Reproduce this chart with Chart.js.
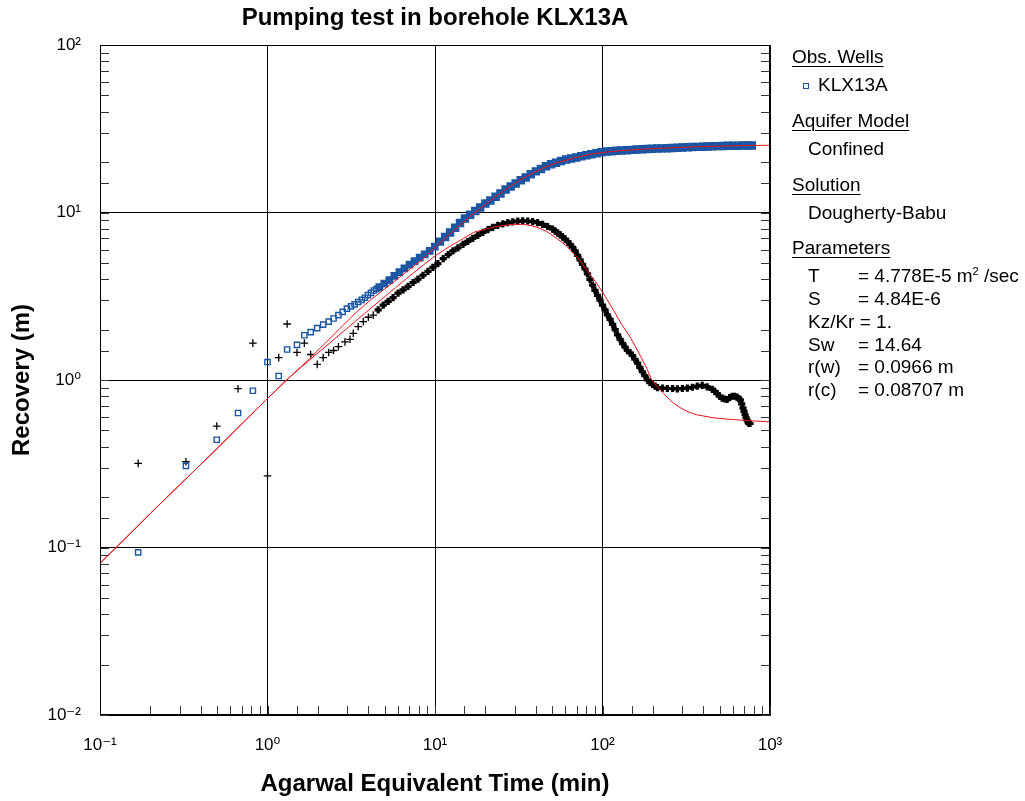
<!DOCTYPE html>
<html>
<head>
<meta charset="utf-8">
<script src="https://cdn.jsdelivr.net/npm/chart.js@4.4.1/dist/chart.umd.min.js"></script>
<style>
html,body{margin:0;padding:0;background:#fff;}
#wrap{position:relative;width:1025px;height:801px;overflow:hidden;}
#c{position:absolute;left:0;top:0;}
.leg{position:absolute;font-family:"Liberation Sans",Arial,"DejaVu Sans",sans-serif;font-size:19px;line-height:20px;color:#000;white-space:nowrap;}
.hd{text-decoration:underline;text-underline-offset:3px;text-decoration-thickness:1px;}
.leg sup{font-size:11px;vertical-align:7px;line-height:0;}
.mk{position:absolute;width:4px;height:4px;border:1px solid #1a56a3;background:#fff;}
</style>
</head>
<body>
<div id="wrap">
<canvas id="c" width="1025" height="801"></canvas>
<div class="leg hd" style="left:792px;top:47px">Obs. Wells</div>
<span class="mk" style="left:803px;top:83px"></span>
<div class="leg" style="left:818px;top:75px">KLX13A</div>
<div class="leg hd" style="left:792px;top:111px">Aquifer Model</div>
<div class="leg" style="left:808px;top:139px">Confined</div>
<div class="leg hd" style="left:792px;top:175px">Solution</div>
<div class="leg" style="left:808px;top:203px">Dougherty-Babu</div>
<div class="leg hd" style="left:792px;top:238px">Parameters</div>
<div class="leg" style="left:808px;top:266px">T</div><div class="leg" style="left:858px;top:266px">= 4.778E-5 m<sup>2</sup> /sec</div>
<div class="leg" style="left:808px;top:289px">S</div><div class="leg" style="left:858px;top:289px">= 4.84E-6</div>
<div class="leg" style="left:808px;top:312px">Kz/Kr = 1.</div>
<div class="leg" style="left:808px;top:335px">Sw</div><div class="leg" style="left:858px;top:335px">= 14.64</div>
<div class="leg" style="left:808px;top:357px">r(w)</div><div class="leg" style="left:858px;top:357px">= 0.0966 m</div>
<div class="leg" style="left:808px;top:380px">r(c)</div><div class="leg" style="left:858px;top:380px">= 0.08707 m</div>
</div>
<script>
// ---------- data ----------
const blueTime = [0.169,0.326,0.498,0.667,0.818,1.0,1.167,1.31,1.5,1.66,1.81,1.98,2.15,2.32,2.48,2.65,2.81,2.98,
  3.15,3.31,3.48,3.65,3.82,3.98,4.15,4.32,4.48,4.65,
  4.98,5.34,5.72,6.13,6.57,7.05,7.55,8.10,8.68,9.30,9.97,
  10.7,11.5,12.3,13.2,14.1,15.1,16.2,17.4,18.6,
  20.0,21.4,23.0,24.6,26.4,28.3,30.3,32.5,34.8,37.3,
  40.0,42.9,46.0,49.3,52.8,56.6,60.7,65.0,69.7,74.7,
  80.1,85.8,92.0,98.6,105.7,113,121,130,140,
  150,160,172,184,197,212,227,243,
  261,280,300,321,345,369,396,424,455,
  488,523,560,600,644,690,740,778];
const blueRecovery = [0.0936,0.307,0.44,0.635,0.863,1.28,1.056,1.52,1.62,1.85,1.93,2.04,2.14,2.23,2.33,2.44,2.55,2.67,
  2.75,2.83,2.92,3.01,3.10,3.21,3.31,3.42,3.50,3.58,
  3.76,3.95,4.18,4.40,4.64,4.88,5.12,5.37,5.62,5.90,6.25,
  6.70,7.15,7.60,8.10,8.65,9.20,9.70,10.2,10.7,
  11.3,11.8,12.4,13.0,13.7,14.3,14.9,15.6,16.2,16.9,
  17.6,18.2,18.9,19.4,19.8,20.3,20.7,21.0,21.3,21.7,
  22.0,22.3,22.6,22.9,23.1,23.2,23.35,23.45,23.55,
  23.65,23.75,23.85,23.95,24.0,24.1,24.15,24.2,
  24.3,24.35,24.45,24.5,24.6,24.65,24.7,24.8,24.85,
  24.9,24.95,25.0,25.0,25.05,25.1,25.1,25.1];

const blackTime = [0.169,0.326,0.498,0.667,0.818,1.0,1.167,1.31,1.5,1.66,1.81,1.98,2.15,2.32,2.48,2.65,
  2.90,3.11,3.25,3.48,3.73,4.00,4.28,4.58,4.91,
  5.25,5.62,6.02,6.45,6.91,7.40,7.92,8.48,9.08,9.72,
  10.4,11.2,12.0,12.8,13.7,14.7,15.7,16.8,18.0,19.3,
  20.7,22.1,23.7,25.4,27.2,29.1,31.2,33.4,35.8,38.3,
  41.0,43.9,47.0,
  50.4,52.2,54.0,55.9,57.8,59.8,61.9,64.0,66.3,68.6,
  71.0,73.5,76.0,78.6,81.4,84.2,87.2,90.2,93.4,96.6,
  100,103.5,107,111,115,119,123,127.5,132,136.5,
  141,146,151,156,162,167,173,179,186,192,199,206,213,
  228,244,262,280,300,321,344,368,394,422,
  452,468,484,500,518,536,555,574,594,615,636,650,665,678,690,700,710,720,730,740,748,760];
const blackRecovery = [0.318,0.325,0.531,0.887,1.66,0.268,1.36,2.16,1.46,1.66,1.42,1.24,1.36,1.46,1.50,1.58,
  1.69,1.75,1.90,2.08,2.23,2.37,2.44,2.62,2.80,
  2.95,3.10,3.30,3.45,3.62,3.82,4.00,4.22,4.45,4.70,
  4.95,5.30,5.60,5.90,6.15,6.45,6.72,7.00,7.30,7.60,
  7.90,8.15,8.38,8.55,8.70,8.80,8.88,8.92,8.90,8.83,
  8.70,8.50,8.25,
  7.95,7.75,7.55,7.35,7.15,6.93,6.70,6.45,6.20,5.90,
  5.55,5.22,4.90,4.60,4.30,3.98,3.68,3.43,3.20,3.00,
  2.80,2.62,2.45,2.30,2.15,2.00,1.86,1.75,1.65,1.57,
  1.50,1.45,1.40,1.33,1.26,1.19,1.12,1.06,1.00,0.965,0.94,0.92,0.90,
  0.895,0.89,0.89,0.885,0.89,0.895,0.905,0.92,0.93,0.91,
  0.88,0.855,0.83,0.80,0.78,0.77,0.765,0.785,0.80,0.80,0.79,0.775,0.76,0.72,0.68,0.65,0.62,0.595,0.575,0.56,0.55,0.55];

const fitBlueTime = [0.1,0.15,0.2,0.3,0.5,0.7,1.0,1.3,1.7,2.2,2.8,3.41,4.2,5.39,6.8,8.52,10,12.3,14.5,17.3,
  21.5,26.8,33.5,42.4,53,67,85,111,146,190,231,300,365,500,700,1000];
const fitBlueRecovery = [0.0805,0.12,0.16,0.237,0.39,0.545,0.775,1.0,1.28,1.65,2.1,2.55,3.05,3.7,4.45,5.3,6.2,7.45,8.6,10.0,
  11.8,13.9,16.0,18.1,19.8,21.1,22.3,23.1,23.6,24.0,24.2,24.5,24.7,24.9,25.1,25.2];

const fitBlackTime = [0.1,0.15,0.2,0.3,0.5,0.7,1.0,1.3,1.6,2.0,2.5,3.1,3.8,4.7,5.8,7.1,8.5,10,12.3,14.8,
  16.9,20,23.3,26.8,30,33.7,37.5,42.4,47.5,53.2,60,67,73.5,80.5,92.3,104,116,130,146,165,
  184,197,215,231,260,290,325,365,459,577,750,1000];
const fitBlackRecovery = [0.0805,0.12,0.16,0.237,0.39,0.545,0.775,1.0,1.2,1.45,1.75,2.1,2.5,2.98,3.55,4.2,4.85,5.5,6.3,7.0,
  7.6,7.95,8.25,8.42,8.5,8.5,8.35,8.05,7.6,7.0,6.4,5.71,5.15,4.54,3.78,3.15,2.62,2.15,1.81,1.45,
  1.17,1.0,0.9,0.83,0.74,0.685,0.645,0.62,0.595,0.582,0.572,0.562];

const xTickValues = [0.1, 1, 10, 100, 1000];
const xTickLabels = ['10\u207B\u00B9', '10\u2070', '10\u00B9', '10\u00B2', '10\u00B3'];
const yTickValues = [0.01, 0.1, 1, 10, 100];
const yTickLabels = ['10\u207B\u00B2', '10\u207B\u00B9', '10\u2070', '10\u00B9', '10\u00B2'];

// ---------- chart ----------
const FONT = "'Liberation Sans', Arial, 'DejaVu Sans', sans-serif";
Chart.defaults.font.family = FONT;
Chart.defaults.color = '#000';
const BLUE = '#1a56a3';
const DENSE_FROM = 4.5;   // time (min) from which the logged samples overlap into a solid band
const DENSER_FROM = 10;

function pairs(xs, ys) {
  const n = Math.min(xs.length, ys.length);
  const out = [];
  for (let i = 0; i < n; i++) out.push({x: xs[i], y: ys[i]});
  return out;
}
const isDecade = v => Math.abs(Math.log10(v) - Math.round(Math.log10(v))) < 1e-6;
function labelFor(values, labels) {
  return function(value) {
    for (let i = 0; i < values.length; i++) {
      if (Math.abs(Math.log10(values[i]) - Math.log10(value)) < 1e-6) return labels[i];
    }
    return '';
  };
}
const gridColor = c => (c.tick && isDecade(c.tick.value)) ? '#000' : 'rgba(0,0,0,0)';
const dense = c => c.raw && c.raw.x >= DENSE_FROM;
const denser = c => c.raw && c.raw.x >= DENSER_FROM;

const framePlugin = {
  id: 'frame',
  afterDraw(chart) {
    const {ctx, chartArea: a, scales: {x, y}} = chart;
    ctx.save();
    ctx.strokeStyle = '#333';
    ctx.lineWidth = 1;
    const L = 9;
    ctx.beginPath();
    x.ticks.forEach(t => {
      const px = Math.round(x.getPixelForValue(t.value)) + 0.5;
      ctx.moveTo(px, a.bottom); ctx.lineTo(px, a.bottom - L);
    });
    y.ticks.forEach(t => {
      const py = Math.round(y.getPixelForValue(t.value)) + 0.5;
      ctx.moveTo(a.left, py); ctx.lineTo(a.left + L, py);
      ctx.moveTo(a.right, py); ctx.lineTo(a.right - L, py);
    });
    ctx.stroke();
    ctx.strokeStyle = '#000';
    ctx.strokeRect(Math.round(a.left) + 0.5, Math.round(a.top) + 0.5, Math.round(a.right - a.left) - 1, Math.round(a.bottom - a.top) - 1);
    ctx.restore();
  }
};

new Chart(document.getElementById('c'), {
  type: 'scatter',
  data: {
    datasets: [
      {label: 'Fit KLX13A', data: pairs(fitBlueTime, fitBlueRecovery), showLine: true,
       borderColor: '#e8141c', borderWidth: 1, pointRadius: 0, order: 0},
      {label: 'Fit KLX13A (2)', data: pairs(fitBlackTime, fitBlackRecovery), showLine: true,
       borderColor: '#e8141c', borderWidth: 1, pointRadius: 0, order: 0},
      {label: 'KLX13A', data: pairs(blueTime, blueRecovery), showLine: false,
       pointStyle: 'rect',
       pointRadius: c => denser(c) ? 5 : (dense(c) ? 4.5 : 3.7),
       pointBorderColor: BLUE,
       pointBackgroundColor: c => dense(c) ? BLUE : 'rgba(255,255,255,0)',
       pointBorderWidth: 1.4, borderColor: BLUE, order: 1},
      {label: 'KLX13A (2)', data: pairs(blackTime, blackRecovery), showLine: false,
       pointStyle: 'cross',
       pointRadius: c => dense(c) ? 3.6 : 3.8,
       pointBorderColor: '#000',
       pointBorderWidth: c => dense(c) ? 3.2 : 1.3,
       borderColor: '#000', order: 2}
    ]
  },
  options: {
    responsive: false,
    animation: false,
    layout: {padding: {left: 0, top: 0, right: 255, bottom: 0}},
    plugins: {
      legend: {display: false},
      tooltip: {enabled: false},
      title: {display: true, text: 'Pumping test in borehole KLX13A', fullSize: false,
        font: {size: 24, weight: 'bold', family: FONT}, color: '#000',
        padding: {top: 4, bottom: 12.2}}
    },
    scales: {
      x: {
        type: 'logarithmic', position: 'bottom', min: 0.1, max: 1000,
        grid: {color: gridColor, lineWidth: 1, drawTicks: false},
        border: {display: true, color: '#000', width: 1},
        ticks: {autoSkip: false, maxRotation: 0, minRotation: 0, padding: 20,
          font: {size: 17, family: FONT}, color: '#000', callback: labelFor(xTickValues, xTickLabels)},
        title: {display: true, text: 'Agarwal Equivalent Time (min)',
          font: {size: 24, weight: 'bold', family: FONT}, color: '#000', padding: {top: 0, bottom: 2}},
        afterFit: s => { s.height = 86; }
      },
      y: {
        type: 'logarithmic', position: 'left', min: 0.01, max: 100,
        grid: {color: gridColor, lineWidth: 1, drawTicks: false},
        border: {display: true, color: '#000', width: 1},
        ticks: {autoSkip: false, padding: 19,
          font: {size: 17, family: FONT}, color: '#000', callback: labelFor(yTickValues, yTickLabels)},
        title: {display: true, text: 'Recovery (m)',
          font: {size: 24, weight: 'bold', family: FONT}, color: '#000', padding: {top: 8, bottom: 0}},
        afterFit: s => { s.width = 100; }
      }
    }
  },
  plugins: [framePlugin]
});
</script>
</body>
</html>
